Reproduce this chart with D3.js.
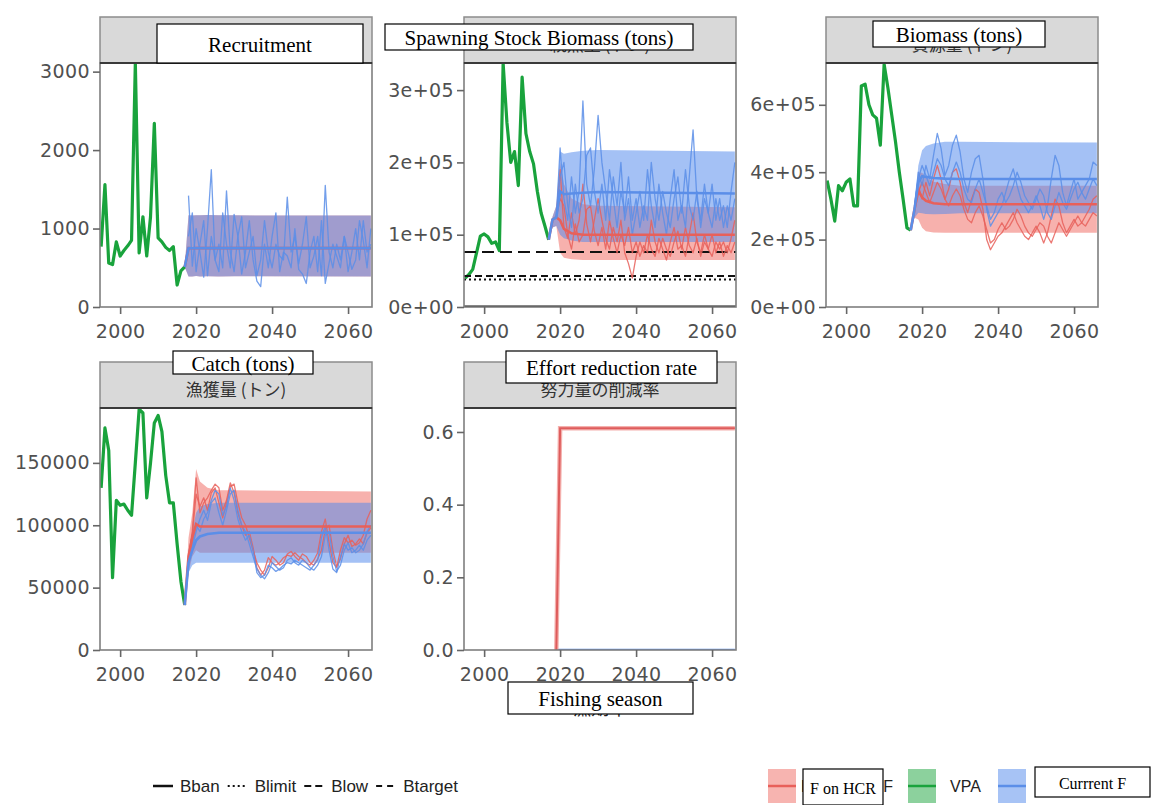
<!DOCTYPE html>
<html>
<head>
<meta charset="utf-8">
<script src="https://cdn.jsdelivr.net/npm/d3@7"></script>
<style>
body { margin: 0; background: #fff; }
svg { display: block; font-family: "DejaVu Sans", Arial, sans-serif; }
</style>
</head>
<body>
<div id="chart"></div>
<script>
// ---- data ----
const vpaStart = 1995
const projStart = 2018
const knotYears = [2017, 2018, 2019, 2020, 2021, 2023, 2026, 2030, 2066]

// recruitment
const recVPA = [770, 1560, 560, 540, 830, 650, 720, 780, 850, 3110, 690, 1150, 650, 1150, 2340, 880, 830, 760, 720, 770, 280, 460, 510]
const recLo = [510, 390, 390, 395, 390, 392, 390, 392, 390]
const recHi = [510, 1170, 1165, 1170, 1168, 1172, 1170, 1168, 1165]
const recMed = [510, 750, 748, 752, 750, 750, 752, 750, 750]
const recCur1 = [1420, 520, 1000, 700, 380, 1000, 1750, 600, 450, 1200, 800, 500, 1180, 900, 420, 700, 1100, 600, 330, 260, 800, 500, 900, 1200, 450, 700, 650, 500, 1000, 480, 420, 300, 700, 900, 450, 1100, 300, 560, 800, 650, 500, 900, 700, 480, 600, 1100, 850, 500, 1000]
const recCur2 = [900, 1200, 450, 800, 1100, 400, 900, 600, 800, 500, 1480, 700, 450, 900, 1150, 500, 700, 900, 400, 600, 1100, 700, 500, 800, 650, 600, 1400, 700, 900, 550, 800, 1150, 500, 650, 900, 400, 1550, 700, 500, 800, 600, 900, 450, 700, 1000, 600, 1100, 700, 800]

// spawning stock biomass
const ssbVPA = [40000, 45000, 52000, 75000, 98000, 101000, 97000, 88000, 90000, 78000, 337000, 255000, 200000, 215000, 168000, 318000, 240000, 215000, 198000, 160000, 130000, 112000, 93000]
const ssbCurLo = [93000, 110000, 112000, 100000, 95000, 92000, 90000, 90000, 90000]
const ssbCurHi = [93000, 125000, 140000, 215000, 212000, 214000, 216000, 217000, 215000]
const ssbCurMed = [93000, 121000, 124000, 160000, 156000, 157000, 158000, 159000, 157000]
const ssbHcrLo = [93000, 110000, 112000, 75000, 68000, 66000, 65000, 65000, 65000]
const ssbHcrHi = [93000, 125000, 140000, 200000, 170000, 150000, 142000, 140000, 138000]
const ssbHcrMed = [93000, 121000, 124000, 120000, 108000, 102000, 100000, 100000, 100000]
const ssbCur1 = [121000, 124000, 220000, 150000, 120000, 180000, 130000, 160000, 285000, 170000, 140000, 190000, 265000, 200000, 160000, 120000, 180000, 140000, 200000, 120000, 150000, 100000, 130000, 160000, 120000, 190000, 140000, 110000, 170000, 130000, 100000, 150000, 190000, 120000, 140000, 110000, 180000, 245000, 150000, 120000, 170000, 130000, 110000, 150000, 120000, 140000, 110000, 160000, 200000]
const ssbCur2 = [121000, 124000, 180000, 200000, 140000, 110000, 170000, 130000, 150000, 210000, 220000, 160000, 130000, 170000, 120000, 190000, 150000, 110000, 160000, 130000, 180000, 120000, 150000, 110000, 140000, 120000, 200000, 150000, 120000, 160000, 130000, 110000, 150000, 180000, 130000, 190000, 140000, 120000, 160000, 110000, 150000, 130000, 170000, 120000, 150000, 110000, 140000, 120000, 150000]
const ssbHcr1 = [121000, 124000, 190000, 110000, 95000, 130000, 100000, 120000, 170000, 115000, 90000, 120000, 150000, 120000, 95000, 80000, 110000, 90000, 120000, 75000, 60000, 40000, 70000, 90000, 75000, 100000, 80000, 70000, 95000, 80000, 65000, 90000, 110000, 80000, 85000, 70000, 100000, 130000, 90000, 75000, 100000, 80000, 70000, 90000, 80000, 90000, 75000, 95000, 120000]
const ssbHcr2 = [121000, 124000, 150000, 140000, 100000, 80000, 115000, 90000, 100000, 135000, 140000, 105000, 85000, 110000, 80000, 120000, 95000, 75000, 100000, 85000, 110000, 75000, 90000, 70000, 85000, 75000, 120000, 90000, 75000, 95000, 80000, 70000, 90000, 105000, 80000, 110000, 85000, 75000, 95000, 70000, 90000, 80000, 100000, 75000, 90000, 70000, 85000, 75000, 90000]
const refPoints = [0, 38000, 43000, 76000]
const refNames = ['Bban', 'Blimit', 'Blow', 'Btarget']

// biomass
const bioVPA = [375000, 320000, 255000, 360000, 345000, 370000, 380000, 300000, 300000, 656000, 661000, 600000, 570000, 560000, 480000, 720000, 650000, 570000, 490000, 400000, 320000, 235000, 228000]
const bioCurLo = [228000, 265000, 280000, 278000, 276000, 275000, 276000, 278000, 278000]
const bioCurHi = [228000, 300000, 420000, 465000, 478000, 485000, 490000, 490000, 488000]
const bioCurMed = [228000, 290000, 370000, 388000, 386000, 383000, 381000, 380000, 380000]
const bioHcrLo = [228000, 265000, 260000, 235000, 225000, 221000, 220000, 220000, 220000]
const bioHcrHi = [228000, 300000, 400000, 398000, 385000, 372000, 365000, 360000, 360000]
const bioHcrMed = [228000, 290000, 345000, 325000, 315000, 308000, 305000, 305000, 305000]
const bioCur1 = [300000, 400000, 360000, 420000, 380000, 450000, 515000, 470000, 390000, 420000, 480000, 510000, 460000, 380000, 340000, 400000, 440000, 450000, 380000, 290000, 240000, 260000, 280000, 300000, 340000, 380000, 410000, 360000, 320000, 300000, 280000, 300000, 330000, 300000, 260000, 300000, 380000, 450000, 420000, 340000, 300000, 340000, 380000, 320000, 340000, 360000, 380000, 430000, 420000]
const bioCur2 = [300000, 380000, 420000, 390000, 360000, 400000, 440000, 420000, 380000, 360000, 400000, 430000, 400000, 350000, 320000, 310000, 350000, 380000, 340000, 300000, 260000, 280000, 320000, 340000, 310000, 330000, 360000, 400000, 370000, 330000, 310000, 290000, 320000, 350000, 330000, 280000, 260000, 300000, 340000, 310000, 290000, 320000, 350000, 370000, 340000, 320000, 350000, 380000, 360000]
const bioHcr1 = [300000, 360000, 320000, 370000, 330000, 380000, 420000, 380000, 320000, 350000, 400000, 410000, 370000, 310000, 280000, 320000, 350000, 340000, 290000, 200000, 170000, 190000, 210000, 220000, 240000, 260000, 280000, 250000, 230000, 210000, 200000, 220000, 240000, 220000, 190000, 220000, 270000, 320000, 300000, 250000, 220000, 240000, 260000, 240000, 250000, 270000, 290000, 320000, 330000]
const bioHcr2 = [300000, 340000, 370000, 340000, 310000, 340000, 370000, 350000, 320000, 300000, 330000, 350000, 330000, 290000, 260000, 250000, 280000, 300000, 270000, 230000, 190000, 200000, 230000, 250000, 230000, 240000, 260000, 290000, 270000, 240000, 220000, 210000, 230000, 250000, 240000, 210000, 190000, 220000, 250000, 230000, 210000, 230000, 250000, 270000, 250000, 240000, 260000, 280000, 270000]

// catch
const catchVPA = [130000, 178000, 160000, 58000, 120000, 116000, 117000, 112000, 108000, 150000, 193000, 190000, 122000, 150000, 182000, 188000, 175000, 140000, 118000, 118000, 85000, 55000, 36000]
const catchCurLo = [36000, 62000, 68000, 70000, 70000, 70000, 70000, 70000, 70000]
const catchCurHi = [36000, 80000, 95000, 110000, 115000, 117000, 118000, 118000, 118000]
const catchCurMed = [36000, 70000, 80000, 88000, 91000, 93000, 94000, 94000, 94000]
const catchHcrLo = [36000, 62000, 75000, 80000, 78000, 78000, 78000, 78000, 78000]
const catchHcrHi = [36000, 90000, 110000, 145000, 135000, 130000, 128000, 128000, 127000]
const catchHcrMed = [36000, 75000, 90000, 101000, 99000, 99000, 99000, 99000, 99000]
const catchCur1 = [70000, 85000, 100000, 95000, 105000, 110000, 120000, 128000, 125000, 108000, 115000, 130000, 120000, 105000, 95000, 88000, 92000, 80000, 62000, 58000, 60000, 68000, 66000, 63000, 65000, 68000, 70000, 69000, 72000, 70000, 68000, 66000, 64000, 68000, 72000, 90000, 100000, 80000, 65000, 62000, 75000, 85000, 80000, 82000, 78000, 80000, 85000, 95000, 100000]
const catchCur2 = [70000, 82000, 95000, 105000, 112000, 104000, 118000, 122000, 110000, 100000, 112000, 125000, 128000, 112000, 100000, 95000, 85000, 75000, 65000, 60000, 57000, 62000, 70000, 67000, 64000, 66000, 72000, 74000, 70000, 68000, 72000, 70000, 66000, 64000, 68000, 75000, 92000, 95000, 75000, 63000, 68000, 80000, 86000, 78000, 80000, 84000, 80000, 88000, 92000]
const catchHcr1 = [75000, 95000, 138000, 110000, 118000, 122000, 128000, 133000, 130000, 112000, 120000, 134000, 126000, 110000, 100000, 92000, 95000, 82000, 66000, 60000, 64000, 74000, 70000, 68000, 70000, 74000, 76000, 75000, 78000, 75000, 73000, 70000, 68000, 72000, 78000, 95000, 105000, 86000, 70000, 66000, 80000, 90000, 86000, 88000, 84000, 86000, 92000, 105000, 112000]
const catchHcr2 = [75000, 92000, 125000, 115000, 122000, 112000, 126000, 130000, 118000, 106000, 118000, 131000, 133000, 118000, 106000, 100000, 90000, 80000, 70000, 64000, 60000, 66000, 75000, 72000, 68000, 70000, 77000, 79000, 75000, 72000, 77000, 75000, 70000, 68000, 73000, 80000, 97000, 100000, 80000, 67000, 73000, 85000, 92000, 83000, 85000, 89000, 85000, 94000, 98000]

// effort reduction rate
const effortYears = [2019, 2020, 2066]
const effortHcr = [0, 0.61, 0.61]
const effortCur = [0, 0, 0]

const scenarioNames = ['HCRによるF', 'VPA', '現状のF']

// ---- layout ----
const W = 1156, H = 805
const xDomain = [1994.7, 2066.3]
const colLeft = [100, 464, 826]
const panelW = 272
const rowTop = [17, 362]
const stripH = 46
const plotH = [244, 242]

const colHcr = '#e8605a', fillHcr = '#f06a62'
const colCur = '#5b8ee8', fillCur = '#5088ec'
const colVpa = '#19a33c'
const legendFont = '"Liberation Sans", Arial, "Noto Sans CJK JP", sans-serif'

const sciFmt = d => d === 0 ? '0e+00' : (d / 1e5) + 'e+05'

const series = {
	rec: { vpa: recVPA, hcr: [recLo, recHi, recMed, []], cur: [recLo, recHi, recMed, [recCur1, recCur2]] },
	ssb: { vpa: ssbVPA, hcr: [ssbHcrLo, ssbHcrHi, ssbHcrMed, [ssbHcr1, ssbHcr2]], cur: [ssbCurLo, ssbCurHi, ssbCurMed, [ssbCur1, ssbCur2]] },
	bio: { vpa: bioVPA, hcr: [bioHcrLo, bioHcrHi, bioHcrMed, [bioHcr1, bioHcr2]], cur: [bioCurLo, bioCurHi, bioCurMed, [bioCur1, bioCur2]] },
	catch: { vpa: catchVPA, hcr: [catchHcrLo, catchHcrHi, catchHcrMed, [catchHcr1, catchHcr2]], cur: [catchCurLo, catchCurHi, catchCurMed, [catchCur1, catchCur2]] }
}

const panels = [
	{ id: 'rec', row: 0, col: 0, jp: '加入量 (百万尾)', yMax: 3110, yTicks: [0, 1000, 2000, 3000], fmt: d3.format('d') },
	{ id: 'ssb', row: 0, col: 1, jp: '親魚量 (トン)', yMax: 337500, yTicks: [0, 1e5, 2e5, 3e5], fmt: sciFmt },
	{ id: 'bio', row: 0, col: 2, jp: '資源量 (トン)', yMax: 724000, yTicks: [0, 2e5, 4e5, 6e5], fmt: sciFmt },
	{ id: 'catch', row: 1, col: 0, jp: '漁獲量 (トン)', yMax: 194000, yTicks: [0, 50000, 100000, 150000], fmt: d3.format('d') },
	{ id: 'effort', row: 1, col: 1, jp: '努力量の削減率', yMax: 0.666, yTicks: [0, 0.2, 0.4, 0.6], fmt: d3.format('.1f') }
]

const svg = d3.select('#chart').append('svg')
	.attr('width', W)
	.attr('height', H)

svg.append('rect').attr('width', W).attr('height', H).attr('fill', '#fff')

const refDash = ['', '2,3', '7,4', '12,6']
const refWidth = [3, 2, 2, 2]

const drawPanel = (p) => {
	const left = colLeft[p.col]
	const top = rowTop[p.row] + stripH
	const bottom = top + plotH[p.row]

	const x = d3.scaleLinear().domain(xDomain).range([left, left + panelW])
	const y = d3.scaleLinear().domain([0, p.yMax]).range([bottom, top])

	const g = svg.append('g')

	// strip
	g.append('rect')
	.attr('x', left).attr('y', rowTop[p.row])
	.attr('width', panelW).attr('height', stripH)
	.attr('fill', '#d9d9d9').attr('stroke', '#8c8c8c').attr('stroke-width', 1.5)

	g.append('text')
	.attr('x', left + panelW / 2).attr('y', rowTop[p.row] + stripH / 2 + 3)
	.attr('text-anchor', 'middle').attr('dominant-baseline', 'central')
	.style('font-family', '"Noto Sans CJK JP", sans-serif').style('font-size', '17px')
	.attr('fill', '#333')
	.text(p.jp)

	g.append('rect')
	.attr('x', left).attr('y', top)
	.attr('width', panelW).attr('height', plotH[p.row])
	.attr('fill', '#fff')

	const clipId = 'clip-' + p.id
	svg.append('clipPath').attr('id', clipId)
	.append('rect').attr('x', left).attr('y', top).attr('width', panelW).attr('height', plotH[p.row])

	const inner = g.append('g').attr('clip-path', 'url(#' + clipId + ')')

	const line = d3.line().x(d => x(d[0])).y(d => y(d[1])).curve(d3.curveLinear)
	const area = d3.area().x(d => x(d[0])).y0(d => y(d[1])).y1(d => y(d[2]))

	const s = series[p.id]
	if (s) {
		const bandData = sc => knotYears.map((yr, i) => [yr, sc[0][i], sc[1][i]])
		inner.append('path').attr('d', area(bandData(s.hcr))).attr('fill', fillHcr).attr('fill-opacity', 0.52)
		inner.append('path').attr('d', area(bandData(s.cur))).attr('fill', fillCur).attr('fill-opacity', 0.52)

		inner.append('path')
		.attr('d', line(s.vpa.map((v, i) => [vpaStart + i, v])))
		.attr('fill', 'none').attr('stroke', colVpa).attr('stroke-width', 3.2)
		.attr('stroke-linejoin', 'round')

		if (p.id === 'ssb') {
			refPoints.forEach((r, i) => {
				inner.append('line')
				.attr('x1', left).attr('x2', left + panelW)
				.attr('y1', y(r)).attr('y2', y(r))
				.attr('stroke', '#111').attr('stroke-width', refWidth[i])
				.attr('stroke-dasharray', refDash[i])
			})
		}

		const traj = (arr, col) => {
			inner.append('path')
			.attr('d', line(arr.map((v, i) => [projStart + i, v])))
			.attr('fill', 'none').attr('stroke', col).attr('stroke-width', 1.3)
			.attr('stroke-opacity', 0.85).attr('stroke-linejoin', 'round')
		}
		s.hcr[3].forEach(a => traj(a, colHcr))
		s.cur[3].forEach(a => traj(a, colCur))

		const med = (sc, col) => {
			inner.append('path')
			.attr('d', line(knotYears.map((yr, i) => [yr, sc[2][i]])))
			.attr('fill', 'none').attr('stroke', col).attr('stroke-width', 2.6)
		}
		med(s.hcr, colHcr)
		med(s.cur, colCur)
	} else {
		inner.append('path')
		.attr('d', line(effortYears.map((yr, i) => [yr, effortCur[i]])))
		.attr('fill', 'none').attr('stroke', colCur).attr('stroke-width', 2.4)
		inner.append('path')
		.attr('d', line(effortYears.map((yr, i) => [yr, effortHcr[i]])))
		.attr('fill', 'none').attr('stroke', '#f4b0ad').attr('stroke-width', 4.5)
		inner.append('path')
		.attr('d', line(effortYears.map((yr, i) => [yr, effortHcr[i]])))
		.attr('fill', 'none').attr('stroke', '#de5c5c').attr('stroke-width', 2)
	}

	// panel border
	g.append('rect')
	.attr('x', left).attr('y', top)
	.attr('width', panelW).attr('height', plotH[p.row])
	.attr('fill', 'none').attr('stroke', '#7f7f7f').attr('stroke-width', 1.6)

	g.append('line')
	.attr('x1', left).attr('x2', left + panelW)
	.attr('y1', top).attr('y2', top)
	.attr('stroke', '#3a3a3a').attr('stroke-width', 2)

	const styleAxis = sel => {
		sel.select('.domain').remove()
		sel.selectAll('line').attr('stroke', '#666').attr('stroke-width', 1.6)
		sel.selectAll('text').attr('fill', '#505050').style('font-size', '19px')
		.style('letter-spacing', '0.4px')
		.style('font-family', '"DejaVu Sans", Arial, sans-serif')
	}

	g.append('g')
	.attr('transform', 'translate(' + left + ',0)')
	.call(d3.axisLeft(y).tickValues(p.yTicks).tickFormat(p.fmt).tickSize(7).tickPadding(3))
	.call(styleAxis)

	g.append('g')
	.attr('transform', 'translate(0,' + bottom + ')')
	.call(d3.axisBottom(x).tickValues([2000, 2020, 2040, 2060]).tickFormat(d3.format('d')).tickSize(7).tickPadding(11))
	.call(styleAxis)
}

panels.forEach(drawPanel)

// x axis title (hidden under the overlay)
svg.append('text')
.attr('x', 600).attr('y', 707)
.attr('text-anchor', 'middle').attr('dominant-baseline', 'central')
.style('font-family', '"Noto Sans CJK JP", sans-serif').style('font-size', '18px')
.attr('fill', '#222')
.text('漁期年')

// ---- legend ----
const legY = 786
let legX = 153
refNames.forEach((n, i) => {
	svg.append('line')
	.attr('x1', legX).attr('x2', legX + 20)
	.attr('y1', legY).attr('y2', legY)
	.attr('stroke', '#111').attr('stroke-width', i === 0 ? 2.5 : 2)
	.attr('stroke-dasharray', i === 3 ? '6,5' : refDash[i])
	const t = svg.append('text')
	.attr('x', legX + 27).attr('y', legY)
	.attr('dominant-baseline', 'central')
	.style('font-family', legendFont)
	.style('font-size', '17px').attr('fill', '#222')
	.text(n)
	legX += 27 + t.node().getComputedTextLength() + 8
})

const legKeyX = [768, 908, 998]
const legLabelGap = [33, 42, 42]
const keyFill = [fillHcr, colVpa, fillCur]
const keyLine = [colHcr, colVpa, colCur]
scenarioNames.forEach((n, i) => {
	svg.append('rect')
	.attr('x', legKeyX[i]).attr('y', legY - 17)
	.attr('width', 28).attr('height', 34)
	.attr('fill', keyFill[i]).attr('fill-opacity', 0.5)
	svg.append('line')
	.attr('x1', legKeyX[i]).attr('x2', legKeyX[i] + 28)
	.attr('y1', legY).attr('y2', legY)
	.attr('stroke', keyLine[i]).attr('stroke-width', 2.5)
	svg.append('text')
	.attr('x', legKeyX[i] + legLabelGap[i]).attr('y', legY)
	.attr('dominant-baseline', 'central')
	.style('font-family', legendFont)
	.style('font-size', '16px').attr('fill', '#222')
	.text(n)
})

// ---- translation overlays ----
const overlayText = ['Recruitment', 'Spawning Stock Biomass (tons)', 'Biomass (tons)', 'Catch (tons)', 'Effort reduction rate', 'Fishing season', 'F on HCR', 'Currrent F']
const overlayBox = [
	[157, 24, 206, 39], [385, 24, 308, 26], [873, 21, 172, 26], [173, 351, 140, 23],
	[506, 351, 211, 32], [508, 682, 185, 32], [803, 769, 80, 36], [1035, 767, 115, 30]
]
const overlaySize = [21, 21, 21, 21, 21, 21, 16, 16]

overlayText.forEach((t, i) => {
	const b = overlayBox[i]
	svg.append('rect')
	.attr('x', b[0]).attr('y', b[1]).attr('width', b[2]).attr('height', b[3])
	.attr('fill', '#fff').attr('stroke', '#000').attr('stroke-width', 1.2)
	svg.append('text')
	.attr('x', b[0] + b[2] / 2).attr('y', b[1] + b[3] / 2 + 1)
	.attr('text-anchor', 'middle').attr('dominant-baseline', 'central')
	.style('font-family', '"Liberation Serif", "Times New Roman", serif')
	.style('font-size', overlaySize[i] + 'px').attr('fill', '#000')
	.text(t)
})
</script>
</body>
</html>
